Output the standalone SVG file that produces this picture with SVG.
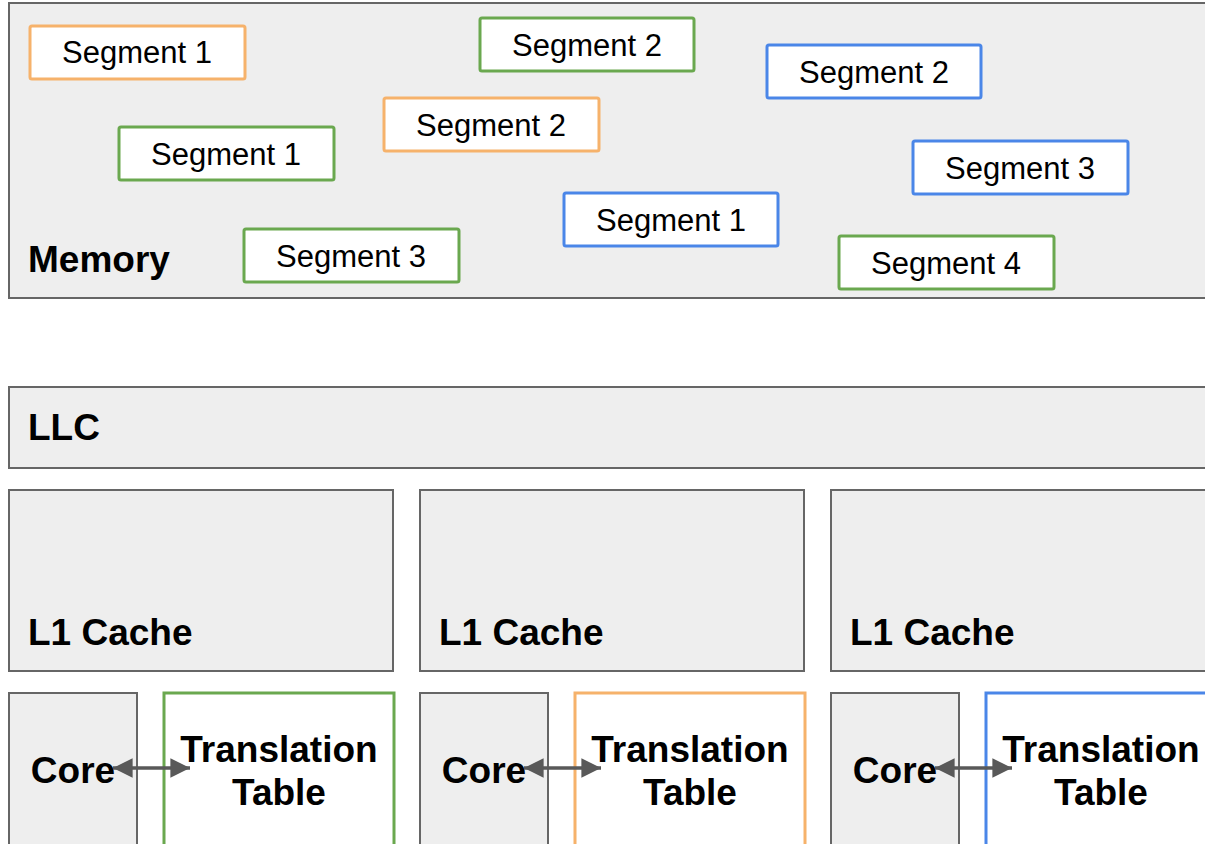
<svg xmlns="http://www.w3.org/2000/svg" width="1205" height="844" viewBox="0 0 1205 844">
<defs>
<style>
.box{fill:#eeeeee;stroke:#666666;stroke-width:2}
.seg{fill:#ffffff;stroke-width:3}
.o{stroke:#f6b26b}.g{stroke:#6aa84f}.b{stroke:#4a86e8}
.st{font-family:"Liberation Sans",Arial,sans-serif;font-size:31px;fill:#000;text-anchor:middle}
.bt{font-family:"Liberation Sans",Arial,sans-serif;font-size:37px;font-weight:bold;fill:#000}
.c{text-anchor:middle}
.conn{stroke:#595959;stroke-width:3.5;fill:none}
</style>
<marker id="ah" viewBox="0 0 10 10" refX="10" refY="5" markerWidth="7" markerHeight="5.6" markerUnits="strokeWidth" orient="auto-start-reverse">
<path d="M0,0 L10,5 L0,10 z" fill="#595959"/>
</marker>
</defs>
<rect width="1205" height="844" fill="#ffffff"/>
<g id="memory"><rect class="box" x="9" y="3" width="1205" height="295"/><text class="bt" x="28" y="272">Memory</text></g>
<g id="seg-o1"><rect class="seg o" x="30" y="26" width="215" height="53" rx="2"/><text class="st" x="137" y="63">Segment 1</text></g>
<g id="seg-g2"><rect class="seg g" x="480" y="18" width="214" height="53" rx="2"/><text class="st" x="587" y="56">Segment 2</text></g>
<g id="seg-b2"><rect class="seg b" x="767" y="45" width="214" height="53" rx="2"/><text class="st" x="874" y="83">Segment 2</text></g>
<g id="seg-g1"><rect class="seg g" x="119" y="127" width="215" height="53" rx="2"/><text class="st" x="226" y="165">Segment 1</text></g>
<g id="seg-o2"><rect class="seg o" x="384" y="98" width="215" height="53" rx="2"/><text class="st" x="491" y="136">Segment 2</text></g>
<g id="seg-b3"><rect class="seg b" x="913" y="141" width="215" height="53" rx="2"/><text class="st" x="1020" y="179">Segment 3</text></g>
<g id="seg-b1"><rect class="seg b" x="564" y="193" width="214" height="53" rx="2"/><text class="st" x="671" y="231">Segment 1</text></g>
<g id="seg-g3"><rect class="seg g" x="244" y="229" width="215" height="53" rx="2"/><text class="st" x="351" y="267">Segment 3</text></g>
<g id="seg-g4"><rect class="seg g" x="839" y="236" width="215" height="53" rx="2"/><text class="st" x="946" y="274">Segment 4</text></g>
<g id="llc"><rect class="box" x="9" y="387" width="1205" height="81"/><text class="bt" x="28" y="440">LLC</text></g>
<g id="l1-1"><rect class="box" x="9" y="490" width="384" height="181"/><text class="bt" x="28" y="645">L1 Cache</text></g>
<g id="l1-2"><rect class="box" x="420" y="490" width="384" height="181"/><text class="bt" x="439" y="645">L1 Cache</text></g>
<g id="l1-3"><rect class="box" x="831" y="490" width="384" height="181"/><text class="bt" x="850" y="645">L1 Cache</text></g>
<g id="core-1"><rect class="box" x="9" y="693" width="128" height="160"/><text class="bt c" x="73" y="783">Core</text></g>
<g id="tt-1"><rect class="seg g" x="164" y="693" width="230" height="160"/><text class="bt c" x="279" y="762">Translation</text><text class="bt c" x="279" y="805">Table</text></g>
<g id="core-2"><rect class="box" x="420" y="693" width="128" height="160"/><text class="bt c" x="484" y="783">Core</text></g>
<g id="tt-2"><rect class="seg o" x="575" y="693" width="230" height="160"/><text class="bt c" x="690" y="762">Translation</text><text class="bt c" x="690" y="805">Table</text></g>
<g id="core-3"><rect class="box" x="831" y="693" width="128" height="160"/><text class="bt c" x="895" y="783">Core</text></g>
<g id="tt-3"><rect class="seg b" x="986" y="693" width="230" height="160"/><text class="bt c" x="1101" y="762">Translation</text><text class="bt c" x="1101" y="805">Table</text></g>
<g id="connectors">
<line class="conn" x1="113" y1="768" x2="190" y2="768" marker-start="url(#ah)" marker-end="url(#ah)"/>
<line class="conn" x1="524" y1="768" x2="601" y2="768" marker-start="url(#ah)" marker-end="url(#ah)"/>
<line class="conn" x1="935" y1="768" x2="1012" y2="768" marker-start="url(#ah)" marker-end="url(#ah)"/>
</g>
</svg>
